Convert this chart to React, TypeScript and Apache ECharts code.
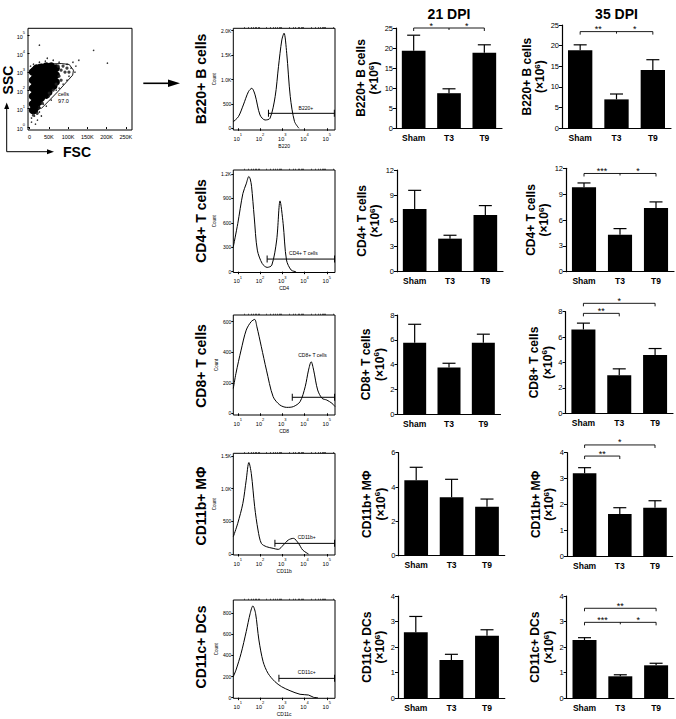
import React, { useEffect, useRef } from 'react';
import * as echarts from 'echarts';

const FONT = 'Liberation Sans, Arial, Helvetica, sans-serif';

// ---------- labels ----------
const groups = ['Sham', 'T3', 'T9'];
const dpiTitles = ['21 DPI', '35 DPI'];
const rowTitles = ['B220+ B cells', 'CD4+ T cells', 'CD8+ T cells', 'CD11b+ MΦ', 'CD11c+ DCs'];
const markerNames = ['B220', 'CD4', 'CD8', 'CD11b', 'CD11c'];
const gateNames = ['B220+', 'CD4+ T cells', 'CD8+ T cells', 'CD11b+', 'CD11c+'];

// ---------- bar chart values (x10^6): mean and top of error bar ----------
const b220Mean21 = [19.3, 8.7, 18.8];
const b220Err21 = [23.2, 9.8, 20.8];
const b220Mean35 = [18.9, 7.0, 14.1];
const b220Err35 = [20.2, 8.3, 16.6];
const cd4Mean21 = [7.4, 3.9, 6.7];
const cd4Err21 = [9.6, 4.3, 7.8];
const cd4Mean35 = [9.8, 4.3, 7.4];
const cd4Err35 = [10.3, 5.0, 8.1];
const cd8Mean21 = [5.75, 3.75, 5.75];
const cd8Err21 = [7.25, 4.1, 6.45];
const cd8Mean35 = [6.6, 3.0, 4.6];
const cd8Err35 = [7.1, 3.5, 5.1];
const cd11bMean21 = [4.4, 3.4, 2.85];
const cd11bErr21 = [5.15, 4.45, 3.3];
const cd11bMean35 = [3.2, 1.63, 1.87];
const cd11bErr35 = [3.42, 1.87, 2.14];
const cd11cMean21 = [2.58, 1.5, 2.45];
const cd11cErr21 = [3.2, 1.72, 2.68];
const cd11cMean35 = [2.28, 0.86, 1.29];
const cd11cErr35 = [2.37, 0.92, 1.37];

const yMax21 = [25, 12, 8, 6, 4];
const yStep21 = [5, 3, 2, 2, 1];
const yMax35 = [25, 12, 8, 4, 4];
const yStep35 = [5, 3, 2, 1, 1];

// significance brackets (group indices, level in axis units)
const sig21B220 = [{ from: 0, to: 2, level: 25, mid: 1, labels: ['*', '*'] }];
const sig35B220 = [{ from: 0, to: 2, level: 23.4, mid: 1, labels: ['**', '*'] }];
const sig35CD4 = [{ from: 0, to: 2, level: 11.4, mid: 1, labels: ['***', '*'] }];
const sig35CD8 = [
  { from: 0, to: 1, level: 7.87, labels: ['**'] },
  { from: 0, to: 2, level: 8.66, labels: ['*'] },
];
const sig35CD11b = [
  { from: 0, to: 1, level: 3.87, labels: ['**'] },
  { from: 0, to: 2, level: 4.3, labels: ['*'] },
];
const sig35CD11c = [
  { from: 0, to: 2, level: 3.52, labels: ['**'] },
  { from: 0, to: 2, level: 2.97, mid: 1, labels: ['***', '*'] },
];

// ---------- histograms: [log10 fluorescence, count] ----------
const histB220 = [[0.8, 135], [1.03, 238], [1.25, 478], [1.48, 750], [1.63, 820], [1.78, 683], [2.0, 273], [2.23, 170], [2.45, 205], [2.68, 648], [2.83, 1263], [2.98, 1810], [3.08, 1950], [3.2, 1540], [3.36, 650], [3.55, 140], [3.75, 0]];
const histCD4 = [[0.8, 306], [1.0, 590], [1.23, 960], [1.38, 1080], [1.5, 1170], [1.56, 1140], [1.62, 1050], [1.74, 673], [1.88, 265], [2.1, 100], [2.32, 53], [2.53, 80], [2.75, 390], [2.9, 870], [3.04, 590], [3.19, 143], [3.4, 20], [3.62, 0]];
const histCD8 = [[0.8, 163], [0.92, 262], [1.15, 414], [1.38, 545], [1.6, 600], [1.76, 615], [1.86, 567], [2.06, 436], [2.29, 283], [2.59, 109], [2.89, 55], [3.2, 39], [3.5, 44], [3.8, 76], [4.03, 174], [4.18, 283], [4.3, 338], [4.41, 283], [4.59, 153], [4.79, 98], [5.0, 87], [5.24, 65], [5.37, 44]];
const histCD11b = [[0.8, 265], [1.0, 470], [1.23, 775], [1.38, 1130], [1.5, 1400], [1.61, 1230], [1.76, 724], [1.91, 367], [2.06, 163], [2.29, 112], [2.59, 87], [2.82, 71], [3.05, 138], [3.27, 214], [3.5, 240], [3.73, 163], [3.92, 61], [4.18, 0]];
const histCD11c = [[0.8, 200], [0.92, 262], [1.15, 420], [1.38, 626], [1.56, 800], [1.68, 870], [1.8, 800], [1.95, 547], [2.14, 341], [2.36, 231], [2.67, 152], [2.97, 104], [3.35, 66], [3.8, 32], [4.18, 25], [4.41, 3], [4.6, 0]];

// gates: [start, end] in log10 units, height in counts; label anchor
const gateRanges = [[2.38, 5.34], [2.32, 5.35], [3.45, 5.35], [2.67, 5.35], [2.85, 5.35]];
const gateHeights = [307, 155, 105, 163, 183];
const gateLabelPos = [[4.06, 410], [3.95, 225], [4.36, 380], [4.1, 255], [4.1, 240]];

const histTicks = [[0, 500, 1000, 1500, 2000], [0, 300, 600, 900, 1200], [0, 200, 400, 600], [0, 500, 1000, 1500], [0, 200, 400, 600, 800]];
const histYMin = [-35, -10, -11, -15, -6];
const histYMax = [2050, 1250, 644, 1541, 926];
const decadeTicks = [1, 2, 3, 4, 5];

// ---------- FSC / SSC dot plot: [FSC (K), log10 SSC] ----------
const dotsCore = [
  [7.7, 3.0], [7.7, 2.55], [7.7, 2.12], [7.7, 1.68], [7.7, 1.25], [7.7, 0.92],
  [12.8, 3.1], [12.8, 2.66], [12.8, 2.23], [12.8, 1.79], [12.8, 1.36], [12.8, 0.92],
  [17.9, 3.21], [17.9, 2.77], [17.9, 2.34], [17.9, 1.9], [17.9, 1.47], [17.9, 1.09],
  [24.3, 3.1], [24.3, 2.66], [24.3, 2.23], [24.3, 1.79], [24.3, 1.36],
  [30.7, 3.26], [30.7, 2.88], [30.7, 2.45], [30.7, 2.01], [30.7, 1.58],
  [37.1, 3.1], [37.1, 2.66], [37.1, 2.23], [37.1, 1.79],
  [43.5, 3.32], [43.5, 2.93], [43.5, 2.55], [43.5, 2.12], [43.5, 1.74],
  [49.9, 3.1], [49.9, 2.66], [49.9, 2.23], [49.9, 1.9],
  [56.3, 3.32], [56.3, 2.99], [56.3, 2.55], [56.3, 2.17],
  [62.7, 3.1], [62.7, 2.66], [62.7, 2.23],
  [69.1, 3.21], [69.1, 2.83], [69.1, 2.45],
];
const dotsMid = [[74.2, 3.32], [81.9, 3.1], [92.1, 2.99], [87.0, 3.32], [97.2, 3.21], [76.7, 2.77], [81.9, 2.55], [69.1, 2.34], [61.4, 2.01], [51.2, 1.85], [102.3, 2.99], [33.0, 1.3], [25.0, 1.05], [20.0, 0.75], [10.0, 0.65]];
const dotsSparse = [[76.7, 3.53], [97.2, 3.42], [107.4, 3.21], [102.3, 2.77], [87.0, 2.34], [69.1, 2.01], [51.2, 1.68], [35.8, 1.25], [25.6, 0.82], [12.8, 0.6], [5.1, 0.49], [20.5, 0.38], [112.6, 3.53], [120.2, 3.32], [61.4, 3.64], [40.9, 3.59], [25.6, 3.53], [10.2, 3.42], [2.6, 3.32], [97.2, 2.55], [76.7, 2.12], [56.3, 1.47], [43.5, 1.14], [30.7, 0.6], [117.7, 2.99], [25.6, 4.46], [166.3, 4.18], [202.1, 3.48], [46.0, 3.75], [127.9, 3.64], [5.1, 0.27], [15.3, 0.16]];
const cellGate = [[13.6, 3.19], [22, 3.41], [82, 3.46], [103, 3.41], [114, 3.1], [112, 2.83], [73, 1.92], [48, 1.38], [31, 1.02], [18, 1.07], [13.6, 1.47], [13.6, 3.19]];
const cellGateLabel = [88, 1.6];
const cellGateText = 'cells\n97.0';
const fscTicks = [0, 50, 100, 150, 200, 250];
const sscTicks = [0, 1, 2, 3, 4, 5];

// ---------- layout (pixels) ----------
const histBox = [[28.3, 130], [170, 272.5], [315, 415], [453.3, 555], [600, 698.3]];
const bar21Box = [[396, 502, 28, 128], [397, 503, 170, 271.7], [397.5, 500.5, 315, 414], [398.5, 504.7, 452.7, 555.7], [398, 504.8, 596, 698.3]];
const bar35Box = [[562, 671, 25, 128.3], [566, 674, 168.3, 271.7], [565.5, 673, 311.7, 413.3], [567, 672.6, 452.7, 556], [566.6, 674, 596, 698.3]];

const means21 = [b220Mean21, cd4Mean21, cd8Mean21, cd11bMean21, cd11cMean21];
const errs21 = [b220Err21, cd4Err21, cd8Err21, cd11bErr21, cd11cErr21];
const means35 = [b220Mean35, cd4Mean35, cd8Mean35, cd11bMean35, cd11cMean35];
const errs35 = [b220Err35, cd4Err35, cd8Err35, cd11bErr35, cd11cErr35];
const sigs21 = [sig21B220, [], [], [], []];
const sigs35 = [sig35B220, sig35CD4, sig35CD8, sig35CD11b, sig35CD11c];
const hists = [histB220, histCD4, histCD8, histCD11b, histCD11c];

const kFmt = (v: number) => (v >= 1000 ? (v / 1000).toFixed(1) + 'K' : String(v));
const expRich = {
  b: { fontSize: 5.5, fontFamily: FONT, color: '#000', lineHeight: 9, verticalAlign: 'bottom' },
  s: { fontSize: 4, fontFamily: FONT, color: '#000', lineHeight: 9, verticalAlign: 'top' },
};
const expFmt = (v: number) => `{b|10}{s|${Math.round(v)}}`;

const minorTicks: number[] = [];
for (let n = 1; n <= 5; n++) for (let k = 2; k <= 9; k++) if (n + Math.log10(k) < 5.38) minorTicks.push(n + Math.log10(k));

const textSeries = (xi: number, yi: number, pos: number[], text: string, size: number) => ({
  type: 'custom', xAxisIndex: xi, yAxisIndex: yi, data: [pos], encode: { x: 0, y: 1 }, silent: true, z: 5,
  renderItem: (_p: any, api: any) => {
    const c = api.coord([api.value(0), api.value(1)]);
    return {
      type: 'text', x: c[0], y: c[1],
      style: {
        text, fill: '#000', font: `${size}px ${FONT}`, lineHeight: size + 1,
        align: 'center', verticalAlign: 'middle', textAlign: 'center', textVerticalAlign: 'middle',
      },
    };
  },
});

const errRender = (_params: any, api: any) => {
  const x = api.value(0);
  const top = api.coord([x, api.value(2)]);
  const base = api.coord([x, api.value(1)]);
  const st = { stroke: '#000', lineWidth: 1.2 };
  return {
    type: 'group',
    children: [
      { type: 'line', shape: { x1: top[0], y1: base[1], x2: top[0], y2: top[1] }, style: st },
      { type: 'line', shape: { x1: top[0] - 6.5, y1: top[1], x2: top[0] + 6.5, y2: top[1] }, style: st },
    ],
  };
};

const bracketRender = (list: any[]) => (params: any, api: any) => {
  const b = list[params.dataIndex];
  const a = api.coord([b.from, b.level]);
  const c = api.coord([b.to, b.level]);
  const st = { stroke: '#000', lineWidth: 0.9, fill: 'none' };
  const txt = (x: number, y: number, t: string) => ({
    type: 'text',
    x,
    y: y - 2.5,
    style: { text: t, fill: '#000', font: `9px ${FONT}`, align: 'center', verticalAlign: 'middle', textAlign: 'center', textVerticalAlign: 'middle' },
  });
  const children: any[] = [
    { type: 'polyline', shape: { points: [[a[0], a[1] + 3], [a[0], a[1]], [c[0], c[1]], [c[0], c[1] + 3]] }, style: st },
  ];
  if (b.mid !== undefined) {
    const m = api.coord([b.mid, b.level]);
    children.push({ type: 'line', shape: { x1: m[0], y1: m[1], x2: m[0], y2: m[1] + 2 }, style: st });
    children.push(txt((a[0] + m[0]) / 2, a[1], b.labels[0]));
    children.push(txt((m[0] + c[0]) / 2, a[1], b.labels[1]));
  } else {
    children.push(txt((a[0] + c[0]) / 2, a[1], b.labels[0]));
  }
  return { type: 'group', children };
};

function buildOption() {
  const grid: any[] = [];
  const xAxis: any[] = [];
  const yAxis: any[] = [];
  const series: any[] = [];
  const black = { color: '#000' };

  // dot plot
  grid.push({ left: 28, top: 28.3, width: 104, height: 101.7, show: true, borderColor: '#000', borderWidth: 1 });
  xAxis.push({
    type: 'value', gridIndex: 0, min: -4, max: 266,
    axisLine: { show: false }, splitLine: { show: false },
    axisTick: { show: true, length: 2, customValues: fscTicks, lineStyle: black },
    axisLabel: { customValues: fscTicks, fontSize: 5.5, fontFamily: FONT, color: '#000', margin: 4, formatter: (v: number) => (v === 0 ? '0' : v + 'K') },
  });
  yAxis.push({
    type: 'value', gridIndex: 0, min: -0.16, max: 5.38,
    axisLine: { show: false }, splitLine: { show: false },
    axisTick: { show: true, length: 2, customValues: sscTicks, lineStyle: black },
    axisLabel: { customValues: sscTicks, margin: 3, formatter: expFmt, rich: expRich },
  });
  series.push({ type: 'scatter', xAxisIndex: 0, yAxisIndex: 0, data: dotsCore, symbolSize: 7.5, itemStyle: { color: '#000', opacity: 1 }, silent: true });
  series.push({ type: 'scatter', xAxisIndex: 0, yAxisIndex: 0, data: dotsMid, symbolSize: 3.2, itemStyle: { color: '#222', opacity: 0.85 }, silent: true });
  series.push({ type: 'scatter', xAxisIndex: 0, yAxisIndex: 0, data: dotsSparse, symbolSize: 1.6, itemStyle: { color: '#333', opacity: 1 }, silent: true });
  series.push({ type: 'line', xAxisIndex: 0, yAxisIndex: 0, data: cellGate, showSymbol: false, symbol: 'none', lineStyle: { color: '#000', width: 0.9 }, silent: true });
  series.push(textSeries(0, 0, cellGateLabel, cellGateText, 5.5));

  for (let r = 0; r < 5; r++) {
    // histogram
    const gi = grid.length;
    const [ht, hb] = histBox[r];
    grid.push({ left: 233.3, top: ht, width: 101.7, height: hb - ht, show: true, borderColor: '#000', borderWidth: 1 });
    const xi = xAxis.length;
    xAxis.push({
      type: 'value', gridIndex: gi, min: 0.8, max: 5.37,
      name: markerNames[r], nameLocation: 'middle', nameGap: 13,
      nameTextStyle: { fontSize: 5, fontFamily: FONT, color: '#000' },
      axisLine: { show: false }, splitLine: { show: false },
      axisTick: { show: true, length: 2.5, customValues: decadeTicks, lineStyle: black },
      axisLabel: { customValues: decadeTicks, margin: 2.5, formatter: expFmt, rich: expRich },
    });
    xAxis.push({
      type: 'value', gridIndex: gi, min: 0.8, max: 5.37,
      axisLine: { show: false }, splitLine: { show: false },
      axisTick: { show: true, length: 1.3, customValues: minorTicks, lineStyle: { color: '#000', width: 0.6 } },
      axisLabel: { show: false },
    });
    const yi = yAxis.length;
    yAxis.push({
      type: 'value', gridIndex: gi, min: histYMin[r], max: histYMax[r],
      name: 'Count', nameLocation: 'middle', nameGap: 13,
      nameTextStyle: { fontSize: 4.5, fontFamily: FONT, color: '#000' },
      axisLine: { show: false }, splitLine: { show: false },
      axisTick: { show: true, length: 2, customValues: histTicks[r], lineStyle: black },
      axisLabel: { customValues: histTicks[r], fontSize: 5, fontFamily: FONT, color: '#000', margin: 2, formatter: kFmt },
    });
    series.push({
      type: 'line', xAxisIndex: xi, yAxisIndex: yi, data: hists[r], smooth: 0.3,
      showSymbol: false, symbol: 'none', lineStyle: { color: '#000', width: 1 }, silent: true,
    });
    series.push({
      type: 'line', xAxisIndex: xi, yAxisIndex: yi,
      data: [[gateRanges[r][0], gateHeights[r]], [gateRanges[r][1], gateHeights[r]]],
      symbol: 'rect', symbolSize: [1, 7], showSymbol: true, itemStyle: { color: '#000' },
      lineStyle: { color: '#000', width: 1 }, silent: true,
    });
    series.push(textSeries(xi, yi, gateLabelPos[r], gateNames[r], 5));

    // bar charts
    const sets = [
      { box: bar21Box[r], mean: means21[r], err: errs21[r], sig: sigs21[r], max: yMax21[r], step: yStep21[r] },
      { box: bar35Box[r], mean: means35[r], err: errs35[r], sig: sigs35[r], max: yMax35[r], step: yStep35[r] },
    ];
    for (const s of sets) {
      const g = grid.length;
      const [l, rt, t, b] = s.box;
      grid.push({ left: l, top: t, width: rt - l, height: b - t });
      const bx = xAxis.length;
      xAxis.push({
        type: 'category', gridIndex: g, data: groups,
        axisLine: { lineStyle: { color: '#000', width: 1.2 } },
        axisTick: { show: false },
        axisLabel: { fontSize: 8.5, fontWeight: 'bold', fontFamily: FONT, color: '#000', margin: 5 },
      });
      const by = yAxis.length;
      yAxis.push({
        type: 'value', gridIndex: g, min: 0, max: s.max, interval: s.step,
        name: `${rowTitles[r]}\n(×10{s|6})`, nameLocation: 'middle', nameRotate: 90, nameGap: 11,
        nameTextStyle: {
          fontSize: 12, fontWeight: 'bold', fontFamily: FONT, color: '#000', lineHeight: 13.5,
          rich: { s: { fontSize: 8, fontWeight: 'bold', fontFamily: FONT, color: '#000', verticalAlign: 'top' } },
        },
        axisLine: { show: true, lineStyle: { color: '#000', width: 1.2 } },
        axisTick: { show: true, length: 3, lineStyle: black },
        splitLine: { show: false },
        axisLabel: { fontSize: 7.5, fontFamily: FONT, color: '#000', margin: 3 },
      });
      series.push({
        type: 'bar', xAxisIndex: bx, yAxisIndex: by, data: s.mean, barWidth: '67%',
        itemStyle: { color: '#000' }, silent: true,
      });
      series.push({
        type: 'custom', xAxisIndex: bx, yAxisIndex: by, renderItem: errRender,
        data: s.mean.map((m: number, i: number) => [i, m, s.err[i]]),
        encode: { x: 0, y: [1, 2] }, z: 3, silent: true,
      });
      if (s.sig.length) {
        series.push({
          type: 'custom', xAxisIndex: bx, yAxisIndex: by, renderItem: bracketRender(s.sig),
          data: s.sig.map((q: any) => [q.from, q.level]), encode: { x: 0, y: 1 }, clip: false, z: 4, silent: true,
        });
      }
    }
  }

  // annotations
  const rowCenters = [79, 221, 366, 506, 647];
  const graphic: any[] = [];
  const center = { align: 'center', verticalAlign: 'middle', textAlign: 'center', textVerticalAlign: 'middle' };
  rowTitles.forEach((t, i) => {
    graphic.push({ type: 'text', x: 200.5, y: rowCenters[i], rotation: Math.PI / 2, style: { text: t, font: `bold 14px ${FONT}`, fill: '#000', ...center } });
  });
  const colCenters = [449, 616.5];
  dpiTitles.forEach((t, i) => {
    graphic.push({ type: 'text', x: colCenters[i], y: 13.5, style: { text: t, font: `bold 14px ${FONT}`, fill: '#000', ...center } });
  });
  graphic.push({ type: 'text', x: 7.5, y: 80, rotation: Math.PI / 2, style: { text: 'SSC', font: `bold 14px ${FONT}`, fill: '#000', ...center } });
  graphic.push({ type: 'text', x: 77, y: 152, style: { text: 'FSC', font: `bold 14px ${FONT}`, fill: '#000', ...center } });
  graphic.push({ type: 'line', shape: { x1: 6.7, y1: 151.7, x2: 6.7, y2: 108 }, style: { stroke: '#000', lineWidth: 1 } });
  graphic.push({ type: 'polygon', shape: { points: [[4.2, 109], [6.7, 102.5], [9.2, 109]] }, style: { fill: '#000' } });
  graphic.push({ type: 'line', shape: { x1: 6.7, y1: 151.7, x2: 48, y2: 151.7 }, style: { stroke: '#000', lineWidth: 1 } });
  graphic.push({ type: 'polygon', shape: { points: [[47, 149.2], [54, 151.7], [47, 154.2]] }, style: { fill: '#000' } });
  graphic.push({ type: 'line', shape: { x1: 143.3, y1: 83.3, x2: 170, y2: 83.3 }, style: { stroke: '#000', lineWidth: 1.6 } });
  graphic.push({ type: 'polygon', shape: { points: [[168, 79.6], [180, 83.3], [168, 87]] }, style: { fill: '#000' } });

  return { animation: false, backgroundColor: '#fff', grid, xAxis, yAxis, series, graphic };
}

export default function App() {
  const ref = useRef<HTMLDivElement>(null);
  useEffect(() => {
    if (!ref.current) return;
    const chart = echarts.init(ref.current, undefined, { renderer: 'svg' });
    chart.setOption(buildOption() as any);
    return () => chart.dispose();
  }, []);
  return <div ref={ref} style={{ position: 'absolute', left: 0, top: 0, width: 676, height: 719, background: '#fff' }} />;
}
